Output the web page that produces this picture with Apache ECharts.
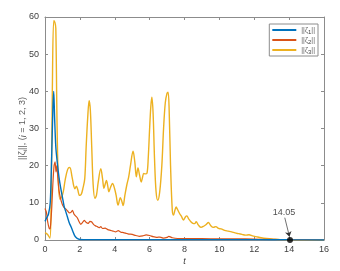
<!DOCTYPE html>
<html><head><meta charset="utf-8">
<script src="https://cdn.jsdelivr.net/npm/echarts@6/dist/echarts.min.js"></script>
<style>html,body{margin:0;padding:0;background:#fff}#c{width:340px;height:271px}</style>
</head><body><div id="c"></div>
<script>
const xTicks = [0,2,4,6,8,10,12,14,16];
const yTicks = [0,10,20,30,40,50,60];
const seriesNames = ['ζ1','ζ2','ζ3'];

const tBlue = [0,0.1,0.2,0.3,0.38,0.45,0.5,0.55,0.62,0.7,0.8,0.9,1.0,1.1,1.2,1.3,1.4,1.5,1.6,1.7,1.8,1.9,2.0,2.5,4,6,8,10,12,14,16];
const blue  = [5,6,7,10,22,35,40,33,25,21,17,14,11.5,9,7.5,6,4.5,3.5,2.3,1.2,0.6,0.3,0.15,0.1,0.1,0.1,0.1,0.1,0.1,0.05,0.02];

const tRed = [0,0.08,0.15,0.25,0.3,0.38,0.45,0.52,0.58,0.63,0.68,0.73,0.8,0.9,1.0,1.1,1.2,1.3,1.4,1.5,1.58,1.66,1.75,1.85,1.95,2.05,2.15,2.25,2.35,2.48,2.58,2.67,2.78,2.9,3.0,3.1,3.2,3.3,3.45,3.6,3.75,3.9,4.05,4.2,4.35,4.5,4.65,4.8,5.0,5.2,5.4,5.6,5.8,6.0,6.2,6.4,6.6,6.8,7.0,7.1,7.3,7.6,8,9,10,11,12,13,14,16];
const red  = [8.5,7.5,5,3,3.2,8,15,20,21,18.3,20,17,13.5,11,9.5,8.7,8.3,7.8,7.3,7.5,8,7,6.5,6,5,4.2,4.7,5.3,4.8,4.5,5.0,4.9,4.2,3.8,3.6,3.3,3.6,3.1,3.2,2.8,2.6,2.4,2.2,2.5,2.1,2.0,1.8,1.6,1.5,1.2,1.0,1.1,1.4,1.2,0.9,0.7,0.8,0.5,0.7,1.0,0.6,0.4,0.4,0.35,0.3,0.3,0.25,0.15,0.05,0];

const tYellow = [0,0.15,0.28,0.35,0.42,0.5,0.57,0.62,0.68,0.75,0.85,0.95,1.05,1.15,1.3,1.42,1.55,1.65,1.72,1.8,1.88,1.98,2.08,2.18,2.28,2.36,2.45,2.53,2.6,2.68,2.76,2.86,2.95,3.05,3.2,3.3,3.38,3.45,3.52,3.6,3.66,3.76,3.87,3.98,4.08,4.19,4.32,4.4,4.48,4.58,4.7,4.8,4.9,5.05,5.15,5.24,5.33,5.42,5.52,5.6,5.66,5.75,5.85,5.92,6.0,6.07,6.13,6.2,6.28,6.37,6.47,6.58,6.7,6.8,6.9,7.0,7.06,7.12,7.2,7.3,7.37,7.45,7.52,7.6,7.71,7.82,7.94,8.05,8.13,8.25,8.35,8.48,8.58,8.67,8.8,8.95,9.1,9.25,9.37,9.5,9.65,9.8,9.95,10.1,10.3,10.5,10.7,10.9,11.1,11.3,11.5,11.7,11.9,12.1,12.4,12.7,13.0,13.5,14,16];
const yellow  = [2,1.5,0.5,10,40,59,58.5,57,35,18,11,11.5,13,16,19,19.5,17,14.5,13.8,14.5,13.5,12,12.3,14,16.5,25,33,37.5,35,25,15,11.2,12,15.5,19.2,16.5,13.9,15,16,14.5,13,14.2,15.2,14,12,9.4,11.4,10.5,9.3,12,15,17,20,23.9,21,17,19.4,17.5,15.6,17,17.9,17.8,18,22,30,36,38.4,34,22,13,10.7,13,20,30,37,39.5,39.8,35,20,8,6.7,8,8.9,8.2,7.2,6.4,5.4,6.2,6.5,5.6,5.0,4.5,4.4,4.9,4.0,3.4,3.7,4.2,4.7,3.9,3.4,3.6,3.1,3.0,2.6,2.4,2.2,1.9,1.7,1.5,1.3,1.4,1.1,0.9,0.6,0.4,0.3,0.1,0,0];

const markT = 14.05;
const markLabel = '14.05';

const pair = (ts, vs) => ts.map((t, i) => [t, vs[i]]);
const axisColor = '#8c8c8c';
const txtColor = '#404040';
const font = 'Liberation Sans, Arial, sans-serif';

const chart = echarts.init(document.getElementById('c'), null, {renderer: 'canvas'});
const subRich = {
  s: {fontSize: 6, verticalAlign: 'bottom', padding: [4,0,0,0], color: txtColor, fontFamily: font},
  it: {fontStyle: 'italic', fontSize: 9, color: txtColor, fontFamily: font}
};
const baseX = {
  type: 'value', min: 0, max: 16, interval: 2,
  axisLine: {show: true, onZero: false, lineStyle: {color: axisColor, width: 1}},
  axisTick: {show: true, inside: true, length: 3, lineStyle: {color: axisColor}},
  splitLine: {show: false}
};
const baseY = {
  type: 'value', min: 0, max: 60, interval: 10,
  axisLine: {show: true, onZero: false, lineStyle: {color: axisColor, width: 1}},
  axisTick: {show: true, inside: true, length: 3, lineStyle: {color: axisColor}},
  splitLine: {show: false}
};
chart.setOption({
  animation: false,
  backgroundColor: '#fff',
  grid: {left: 45, right: 16, top: 17, bottom: 29},
  xAxis: [
    Object.assign({}, baseX, {
      position: 'bottom',
      axisLabel: {color: txtColor, fontSize: 9, fontFamily: font, margin: 5,
        formatter: v => xTicks.includes(v) ? String(v) : ''},
      name: 't', nameLocation: 'middle', nameGap: 17, nameMoveOverlap: false,
      nameTextStyle: {fontStyle: 'italic', fontSize: 9, color: txtColor, fontFamily: font}
    }),
    Object.assign({}, baseX, {position: 'top', axisLabel: {show: false}})
  ],
  yAxis: [
    Object.assign({}, baseY, {
      position: 'left',
      axisLabel: {color: txtColor, fontSize: 9, fontFamily: font, margin: 6,
        formatter: v => yTicks.includes(v) ? String(v) : ''},
      name: '||ζ{s|i}||, ({it|i} = 1, 2, 3)', nameLocation: 'middle', nameGap: 17, nameRotate: 90,
      nameMoveOverlap: false,
      nameTextStyle: {fontSize: 9, color: '#606060', fontFamily: font, rich: subRich}
    }),
    Object.assign({}, baseY, {position: 'right', axisLabel: {show: false}})
  ],
  legend: {
    orient: 'vertical', right: 22, top: 24,
    data: seriesNames,
    icon: 'rect', itemWidth: 24, itemHeight: 2, itemGap: 0, itemStyle: {borderWidth: 0},
    padding: [1, 3, 1, 3],
    borderColor: axisColor, borderWidth: 1, backgroundColor: '#fff',
    formatter: n => '||ζ{s|' + n.slice(1) + '}||',
    textStyle: {fontSize: 7, color: '#606060', fontFamily: font, lineHeight: 10, rich: subRich}
  },
  series: [
    {name: seriesNames[0], type: 'line', data: pair(tBlue, blue), smooth: 0.3, showSymbol: false,
      color: '#0072BD', lineStyle: {width: 1.4, color: '#0072BD'}, z: 3},
    {name: seriesNames[1], type: 'line', data: pair(tRed, red), smooth: 0.2, showSymbol: false,
      color: '#D95319', lineStyle: {width: 1.2, color: '#D95319'}, z: 2},
    {name: seriesNames[2], type: 'line', data: pair(tYellow, yellow), smooth: 0.35, showSymbol: false,
      color: '#EDB120', lineStyle: {width: 1.4, color: '#EDB120'}, z: 1},
    {name: 'mark', type: 'scatter', data: [[markT, 0]], symbolSize: 6, z: 5,
      itemStyle: {color: '#000'},
      label: {show: true, position: 'top', distance: 20, offset: [-6, 0], formatter: markLabel,
        fontSize: 9, color: '#222', fontFamily: font},
      markLine: {silent: true, symbol: ['none', 'arrow'], symbolSize: 5,
        lineStyle: {color: '#333', width: 0.7, type: 'solid'}, label: {show: false},
        data: [[{coord: [13.75, 6.0]}, {coord: [14.02, 0.9]}]]}
    }
  ]
});
</script></body></html>
